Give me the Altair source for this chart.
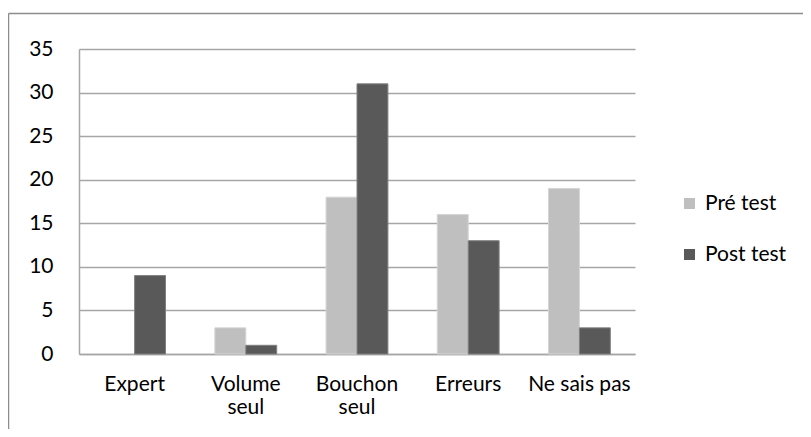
import altair as alt
import pandas as pd

categories = ["Expert", "Volume seul", "Bouchon seul", "Erreurs", "Ne sais pas"]
series = ["Pré test", "Post test"]
pre_test = [0, 3, 18, 16, 19]
post_test = [9, 1, 31, 13, 3]
y_ticks = [0, 5, 10, 15, 20, 25, 30, 35]

fill_colors = ["#BFBFBF", "#595959"]
edge_colors = ["#D4D4D4", "#808080"]
FONT = "Lato"

rows = []
for c, a, b in zip(categories, pre_test, post_test):
    rows.append({"cat": c, "serie": series[0], "val": a})
    rows.append({"cat": c, "serie": series[1], "val": b})
df = pd.DataFrame(rows)

label_expr = ("datum.value == 'Volume seul' ? ['Volume', 'seul'] : "
              "datum.value == 'Bouchon seul' ? ['Bouchon', 'seul'] : datum.label")

bars = alt.Chart(df).mark_bar().encode(
    x=alt.X("cat:N", sort=categories,
            scale=alt.Scale(paddingInner=0.444, paddingOuter=0.222),
            axis=alt.Axis(title=None, labelAngle=0, ticks=False,
                          domainColor="#A6A6A6", domainWidth=1.5,
                          labelExpr=label_expr, labelPadding=19,
                          labelFontSize=21, labelLineHeight=23,
                          labelFont=FONT, labelColor="#000000")),
    xOffset=alt.XOffset("serie:N", sort=series,
                        scale=alt.Scale(paddingInner=0, paddingOuter=0)),
    y=alt.Y("val:Q", scale=alt.Scale(domain=[0, 35], nice=False),
            axis=alt.Axis(values=y_ticks, title=None, ticks=False,
                          domainColor="#A6A6A6", domainWidth=1.5,
                          gridColor="#A6A6A6", gridWidth=1.5,
                          labelPadding=26, labelFontSize=21,
                          labelFont=FONT, labelColor="#000000")),
    color=alt.Color("serie:N", sort=series,
                    scale=alt.Scale(domain=series, range=fill_colors),
                    legend=alt.Legend(title=None, orient="none",
                                      legendX=600, legendY=144,
                                      symbolType="square", symbolSize=121,
                                      symbolStrokeWidth=0, labelFontSize=21,
                                      labelFont=FONT, labelColor="#000000",
                                      rowPadding=29, labelOffset=5, padding=0)),
    stroke=alt.Stroke("serie:N", sort=series,
                      scale=alt.Scale(domain=series, range=edge_colors),
                      legend=None),
    strokeWidth=alt.condition("datum.val > 0", alt.value(1), alt.value(0)),
)

frame_df = pd.DataFrame({"k": [0]})
left_border = alt.Chart(frame_df).mark_rule(color="#8C8C8C", strokeWidth=1.5).encode(
    x=alt.value(-70.5), y=alt.value(-35.5), y2=alt.value(420))
top_border = alt.Chart(frame_df).mark_rule(color="#8C8C8C", strokeWidth=1.5).encode(
    y=alt.value(-35.5), x=alt.value(-70.5), x2=alt.value(800))

chart = alt.layer(bars, left_border, top_border).properties(
    width=556, height=305,
    autosize=alt.AutoSizeParams(type="none"),
    padding={"left": 71, "top": 41, "right": 168, "bottom": 75},
    background="white",
).configure_view(stroke=None)

chart.save("out.html", embed_options={"renderer": "svg", "actions": False})
